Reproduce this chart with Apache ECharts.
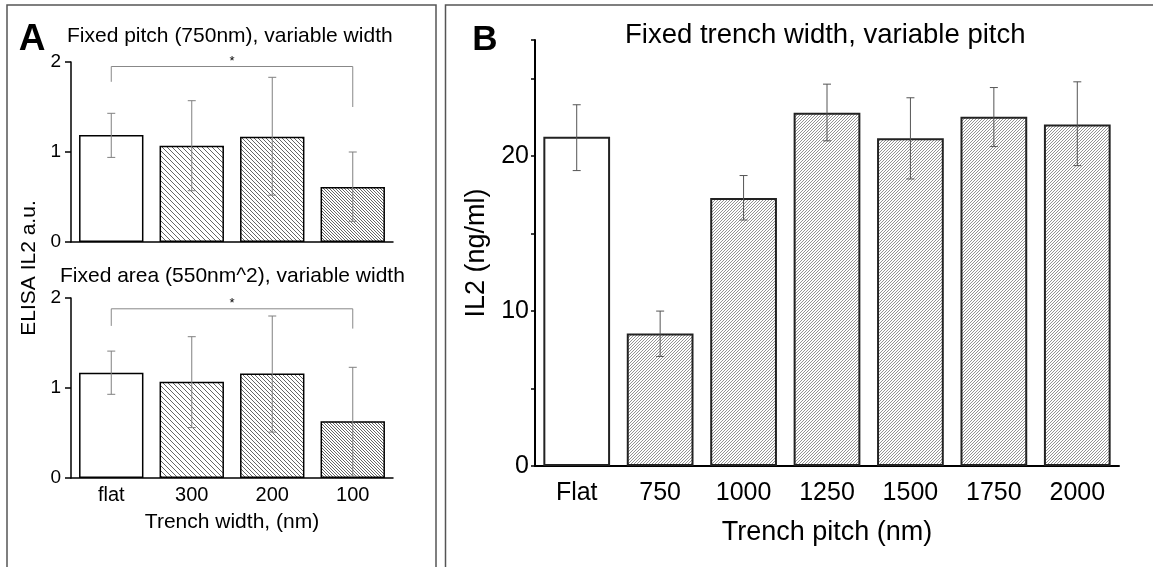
<!DOCTYPE html>
<html>
<head>
<meta charset="utf-8">
<script src="https://cdn.jsdelivr.net/npm/echarts@6/dist/echarts.min.js"></script>
<style>
  html, body { margin: 0; padding: 0; background: #fff; }
  #main { width: 1153px; height: 567px; }
</style>
</head>
<body>
<div id="main"></div>
<script>
// panel A: ELISA IL2 (a.u.)
var widthCats = ['flat', '300', '200', '100'];
var pitchMean = [1.19, 1.07, 1.17, 0.61];
var pitchLow = [0.94, 0.57, 0.52, 0.23];
var pitchHigh = [1.43, 1.57, 1.83, 1.00];
var areaMean = [1.17, 1.07, 1.16, 0.63];
var areaLow = [0.93, 0.56, 0.51, 0.02];
var areaHigh = [1.41, 1.57, 1.80, 1.23];
// brackets: [from, top, to, left leg end, right leg end]
var pitchBracket = [0, 1.95, 3, 1.78, 1.50];
var areaBracket = [0, 1.88, 3, 1.69, 1.66];

// panel B: IL2 (ng/ml)
var pitchCats = ['Flat', '750', '1000', '1250', '1500', '1750', '2000'];
var il2Mean = [21.25, 8.55, 17.30, 22.80, 21.16, 22.54, 22.04];
var il2Low = [19.07, 7.07, 15.88, 20.99, 18.53, 20.62, 19.39];
var il2High = [23.32, 10.00, 18.75, 24.65, 23.77, 24.43, 24.80];

var FONT = 'Liberation Sans, Arial, sans-serif';

// hatch pattern tile, dir 'back' = \\\ , 'fwd' = ///
function hatch(s, dir, color, lw) {
    var c = document.createElement('canvas');
    c.width = s; c.height = s;
    var ctx = c.getContext('2d');
    ctx.fillStyle = '#fff';
    ctx.fillRect(0, 0, s, s);
    ctx.strokeStyle = color;
    ctx.lineWidth = lw;
    ctx.beginPath();
    if (dir === 'back') {
        ctx.moveTo(0, 0); ctx.lineTo(s, s);
        ctx.moveTo(-1, s - 1); ctx.lineTo(1, s + 1);
        ctx.moveTo(s - 1, -1); ctx.lineTo(s + 1, 1);
    } else {
        ctx.moveTo(0, s); ctx.lineTo(s, 0);
        ctx.moveTo(-1, 1); ctx.lineTo(1, -1);
        ctx.moveTo(s - 1, s + 1); ctx.lineTo(s + 1, s - 1);
    }
    ctx.stroke();
    return { image: c, repeat: 'repeat' };
}

var aFills = ['#fff', hatch(5, 'back', '#555', 0.9), hatch(4, 'back', '#555', 0.9), hatch(3, 'back', '#555', 0.9)];
var bHatch = hatch(3, 'fwd', '#666', 0.7);

function barData(vals, fills) {
    return vals.map(function (v, i) {
        return { value: v, itemStyle: { color: fills(i) } };
    });
}

function errData(lo, hi) {
    return lo.map(function (l, i) { return [i, l, hi[i]]; });
}

function errRender(cap, color) {
    return function (params, api) {
        var i = api.value(0);
        var a = api.coord([i, api.value(1)]);
        var b = api.coord([i, api.value(2)]);
        var st = { stroke: color, lineWidth: 1 };
        return {
            type: 'group',
            children: [
                { type: 'line', shape: { x1: a[0], y1: a[1], x2: b[0], y2: b[1] }, style: st },
                { type: 'line', shape: { x1: a[0] - cap, y1: a[1], x2: a[0] + cap, y2: a[1] }, style: st },
                { type: 'line', shape: { x1: b[0] - cap, y1: b[1], x2: b[0] + cap, y2: b[1] }, style: st }
            ]
        };
    };
}

function bracketRender(params, api) {
    var x1 = api.value(0), top = api.value(1), x2 = api.value(2);
    var p1 = api.coord([x1, api.value(3)]);
    var p2 = api.coord([x1, top]);
    var p3 = api.coord([x2, top]);
    var p4 = api.coord([x2, api.value(4)]);
    return {
        type: 'group',
        children: [
            { type: 'polyline', shape: { points: [p1, p2, p3, p4] }, style: { stroke: '#888', lineWidth: 1, fill: 'none' } },
            { type: 'text', x: (p2[0] + p3[0]) / 2, y: p2[1] + 1, style: { text: '*', font: '13px ' + FONT, fill: '#000', align: 'center', verticalAlign: 'bottom' } }
        ]
    };
}

var chart = echarts.init(document.getElementById('main'));

var axisLineA = { show: true, lineStyle: { color: '#000', width: 1.5 } };

function catAxisA(idx, showLabels) {
    return {
        type: 'category', gridIndex: idx, data: widthCats,
        axisLine: axisLineA, axisTick: { show: false },
        axisLabel: { show: showLabels, color: '#000', fontSize: 20, fontFamily: FONT, margin: 7 },
        name: showLabels ? 'Trench width, (nm)' : '',
        nameLocation: 'middle', nameGap: 34,
        nameTextStyle: { color: '#000', fontSize: 21, fontFamily: FONT }
    };
}

function valAxisA(idx) {
    return {
        type: 'value', gridIndex: idx, min: 0, max: 2, interval: 1,
        axisLine: axisLineA,
        axisTick: { show: true, length: 6, lineStyle: { color: '#000', width: 1.5 } },
        axisLabel: { color: '#000', fontSize: 19, fontFamily: FONT, margin: 10 },
        splitLine: { show: false }
    };
}

var option = {
    animation: false,
    backgroundColor: '#fff',
    grid: [
        { left: 71, top: 62, width: 322, height: 180, outerBoundsMode: 'none' },
        { left: 71, top: 298, width: 322, height: 180, outerBoundsMode: 'none' },
        { left: 535, top: 40, width: 584, height: 426, outerBoundsMode: 'none' }
    ],
    xAxis: [
        catAxisA(0, false),
        catAxisA(1, true),
        {
            type: 'category', gridIndex: 2, data: pitchCats,
            axisLine: { show: true, lineStyle: { color: '#000', width: 2 } },
            axisTick: { show: false },
            axisLabel: { color: '#000', fontSize: 25, fontFamily: FONT, margin: 15 },
            name: 'Trench pitch (nm)', nameLocation: 'middle', nameGap: 53,
            nameTextStyle: { color: '#000', fontSize: 27, fontFamily: FONT }
        }
    ],
    yAxis: [
        valAxisA(0),
        valAxisA(1),
        {
            type: 'value', gridIndex: 2, min: 0, max: 27.5, interval: 5,
            axisLine: { show: true, lineStyle: { color: '#000', width: 2 } },
            axisTick: { show: true, length: 4, lineStyle: { color: '#000', width: 1.5 } },
            axisLabel: {
                color: '#000', fontSize: 25, fontFamily: FONT, margin: 6,
                formatter: function (v) { return v % 10 === 0 ? String(v) : ''; }
            },
            splitLine: { show: false },
            name: 'IL2 (ng/ml)', nameLocation: 'middle', nameGap: 34, nameRotate: 90,
            nameTextStyle: { color: '#000', fontSize: 27, fontFamily: FONT }
        }
    ],
    series: [
        {
            type: 'bar', xAxisIndex: 0, yAxisIndex: 0, barWidth: '80%',
            data: barData(pitchMean, function (i) { return aFills[i]; }),
            itemStyle: { borderColor: '#000', borderWidth: 1.5 }
        },
        {
            type: 'custom', xAxisIndex: 0, yAxisIndex: 0, z: 5,
            renderItem: errRender(4, '#808080'), data: errData(pitchLow, pitchHigh)
        },
        {
            type: 'custom', xAxisIndex: 0, yAxisIndex: 0, z: 5,
            renderItem: bracketRender, data: [pitchBracket]
        },
        {
            type: 'bar', xAxisIndex: 1, yAxisIndex: 1, barWidth: '80%',
            data: barData(areaMean, function (i) { return aFills[i]; }),
            itemStyle: { borderColor: '#000', borderWidth: 1.5 }
        },
        {
            type: 'custom', xAxisIndex: 1, yAxisIndex: 1, z: 5,
            renderItem: errRender(4, '#808080'), data: errData(areaLow, areaHigh)
        },
        {
            type: 'custom', xAxisIndex: 1, yAxisIndex: 1, z: 5,
            renderItem: bracketRender, data: [areaBracket]
        },
        {
            type: 'bar', xAxisIndex: 2, yAxisIndex: 2, barWidth: '80%',
            data: barData(il2Mean, function (i) { return i === 0 ? '#fff' : bHatch; }),
            itemStyle: { borderColor: '#222', borderWidth: 2 }
        },
        {
            type: 'custom', xAxisIndex: 2, yAxisIndex: 2, z: 5,
            renderItem: errRender(4, '#555'), data: errData(il2Low, il2High)
        }
    ],
    graphic: [
        { type: 'rect', shape: { x: 7, y: 5, width: 429, height: 620 }, style: { fill: 'none', stroke: '#555', lineWidth: 1.5 } },
        { type: 'rect', shape: { x: 445.5, y: 5, width: 730, height: 620 }, style: { fill: 'none', stroke: '#555', lineWidth: 1.5 } },
        { type: 'text', x: 32, y: 40, style: { text: 'A', font: 'bold 37px ' + FONT, fill: '#000', align: 'center', verticalAlign: 'middle' } },
        { type: 'text', x: 485, y: 40, style: { text: 'B', font: 'bold 35px ' + FONT, fill: '#000', align: 'center', verticalAlign: 'middle' } },
        { type: 'text', x: 67, y: 36, style: { text: 'Fixed pitch (750nm), variable width', font: '21px ' + FONT, fill: '#000', align: 'left', verticalAlign: 'middle' } },
        { type: 'text', x: 60, y: 276, style: { text: 'Fixed area (550nm^2), variable width', font: '21px ' + FONT, fill: '#000', align: 'left', verticalAlign: 'middle' } },
        { type: 'text', x: 625, y: 35, style: { text: 'Fixed trench width, variable pitch', font: '27.5px ' + FONT, fill: '#000', align: 'left', verticalAlign: 'middle' } },
        { type: 'text', x: 29, y: 268, rotation: Math.PI / 2, style: { text: 'ELISA IL2 a.u.', font: '21px ' + FONT, fill: '#000', align: 'center', verticalAlign: 'middle' } }
    ]
};

chart.setOption(option);
</script>
</body>
</html>
